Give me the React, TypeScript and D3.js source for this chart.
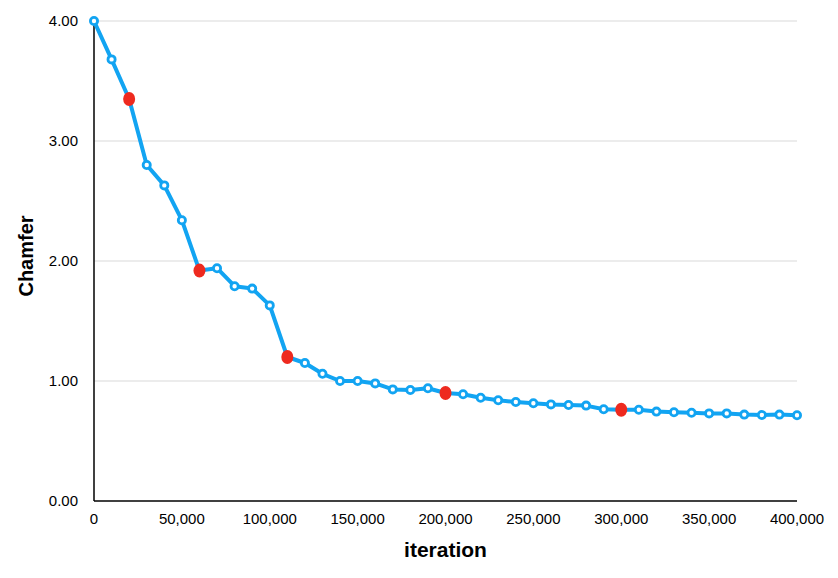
import React from "react";
import * as d3 from "d3";

const iterations: number[] = [
  0, 10000, 20000, 30000, 40000, 50000, 60000, 70000, 80000, 90000,
  100000, 110000, 120000, 130000, 140000, 150000, 160000, 170000, 180000, 190000,
  200000, 210000, 220000, 230000, 240000, 250000, 260000, 270000, 280000, 290000,
  300000, 310000, 320000, 330000, 340000, 350000, 360000, 370000, 380000, 390000, 400000,
];
const chamfer: number[] = [
  4.0, 3.68, 3.35, 2.8, 2.63, 2.34, 1.92, 1.94, 1.79, 1.77,
  1.63, 1.2, 1.15, 1.06, 1.0, 1.0, 0.98, 0.93, 0.925, 0.94,
  0.9, 0.89, 0.86, 0.84, 0.825, 0.815, 0.805, 0.8, 0.795, 0.765,
  0.76, 0.76, 0.745, 0.74, 0.735, 0.73, 0.73, 0.72, 0.717, 0.72, 0.715,
];
const highlighted: number[] = [20000, 60000, 110000, 200000, 300000];
const xTicks: number[] = [0, 50000, 100000, 150000, 200000, 250000, 300000, 350000, 400000];
const yTicks: number[] = [0, 1, 2, 3, 4];

const W = 838;
const H = 578;
const left = 94;
const right = 797;
const top = 21;
const bottom = 501;
const BLUE = "#12a4f2";
const RED = "#ee2a1f";
const FONT = "'Liberation Sans', Arial, Helvetica, sans-serif";

export default function App() {
  const x = d3.scaleLinear().domain([0, 400000]).range([left, right]);
  const y = d3.scaleLinear().domain([0, 4]).range([bottom, top]);
  const data = iterations.map((it, i) => ({ it, v: chamfer[i] }));
  const line = d3
    .line<{ it: number; v: number }>()
    .x((d) => x(d.it))
    .y((d) => y(d.v));
  const fmtX = d3.format(",");
  const fmtY = d3.format(".2f");

  return (
    <svg
      width={W}
      height={H}
      style={{ position: "absolute", left: 0, top: 0, background: "#fff" }}
    >
      {yTicks.map((t) => (
        <g key={t}>
          {t > 0 && (
            <line x1={left} x2={right} y1={y(t)} y2={y(t)} stroke="#d9d9d9" strokeWidth={1} />
          )}
          <text
            x={78}
            y={y(t)}
            dy="0.36em"
            textAnchor="end"
            fontFamily={FONT}
            fontSize={15}
            fill="#000"
          >
            {fmtY(t)}
          </text>
        </g>
      ))}
      {xTicks.map((t) => (
        <text
          key={t}
          x={x(t)}
          y={523.5}
          textAnchor="middle"
          fontFamily={FONT}
          fontSize={15}
          fill="#000"
        >
          {fmtX(t)}
        </text>
      ))}
      <line x1={left} x2={left} y1={top} y2={bottom} stroke="#000" strokeWidth={1.5} />
      <line x1={left} x2={right} y1={bottom} y2={bottom} stroke="#000" strokeWidth={1.5} />
      <path
        d={line(data) || ""}
        fill="none"
        stroke={BLUE}
        strokeWidth={4}
        strokeLinejoin="round"
        strokeLinecap="round"
      />
      {data.map((d) =>
        highlighted.includes(d.it) ? (
          <ellipse key={d.it} cx={x(d.it)} cy={y(d.v)} rx={6} ry={7} fill={RED} />
        ) : (
          <circle
            key={d.it}
            cx={x(d.it)}
            cy={y(d.v)}
            r={3.6}
            fill="#fff"
            stroke={BLUE}
            strokeWidth={2.8}
          />
        )
      )}
      <text
        x={445.5}
        y={557}
        textAnchor="middle"
        fontFamily={FONT}
        fontSize={21}
        fontWeight="bold"
        fill="#000"
      >
        iteration
      </text>
      <text
        transform={`translate(32.5, 256) rotate(-90)`}
        textAnchor="middle"
        fontFamily={FONT}
        fontSize={20}
        fontWeight="bold"
        fill="#000"
      >
        Chamfer
      </text>
    </svg>
  );
}
